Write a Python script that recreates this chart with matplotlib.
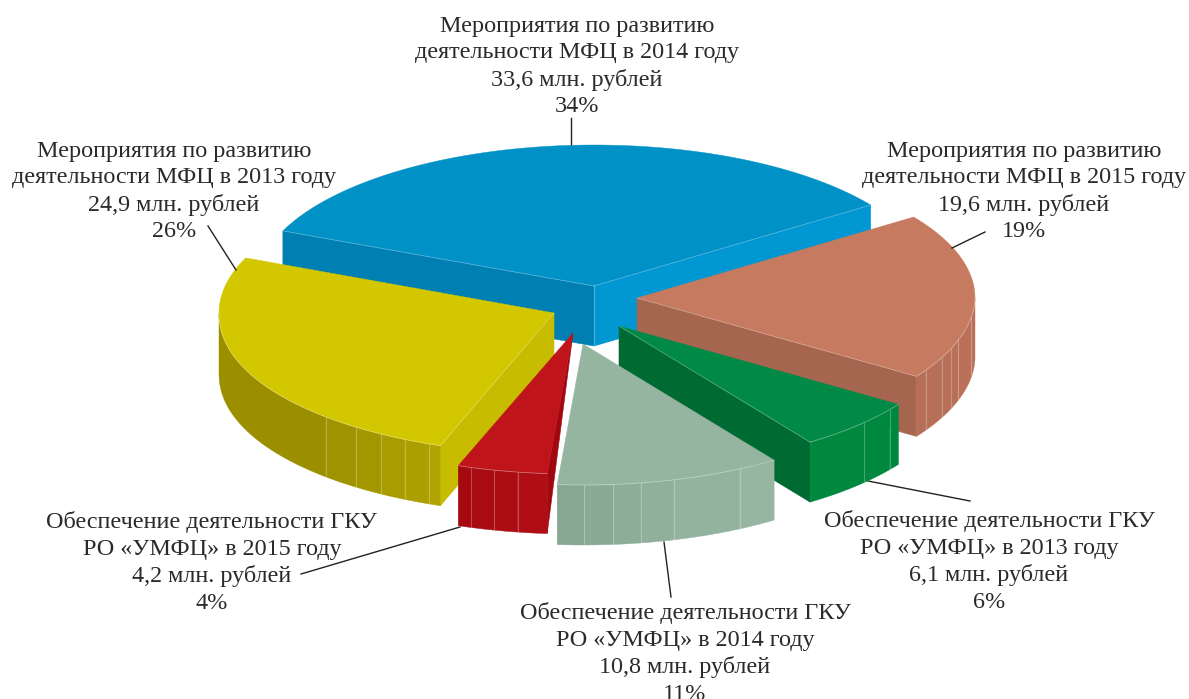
import numpy as np
import matplotlib
matplotlib.use("Agg")
import matplotlib.pyplot as plt
from matplotlib.patches import Polygon

# slices, clockwise from the left edge of the blue one
names = ["Мероприятия по развитию\nдеятельности МФЦ в 2014 году",
         "Мероприятия по развитию\nдеятельности МФЦ в 2015 году",
         "Обеспечение деятельности ГКУ\nРО «УМФЦ» в 2013 году",
         "Обеспечение деятельности ГКУ\nРО «УМФЦ» в 2014 году",
         "Обеспечение деятельности ГКУ\nРО «УМФЦ» в 2015 году",
         "Мероприятия по развитию\nдеятельности МФЦ в 2013 году"]
values = [33.6, 19.6, 6.1, 10.8, 4.2, 24.9]
percents = [34, 19, 6, 11, 4, 26]

# look of each slice
top_col = ["#0091c7", "#c67a60", "#008a45", "#95b5a1", "#c0141b", "#d3c700"]
near_col = ["#0091c7", "#bb7159", "#00883f", "#96b6a2", "#ae0e14", "#b0a400"]
far_col = ["#0091c7", "#b66e57", "#00883f", "#87a793", "#a50a11", "#9b8f00"]
apex_x = [594, 637, 619, 583, 573, 554]
apex_y = [286, 298, 326, 344, 333, 313]
radius_x = [338, 338, 338, 338, 338, 335]
# vertical seams on the rim, degrees after the start of the slice
seams = [[], [44.1, 54.1, 58, 62.1, 68.1], [2.7, 9.7],
         [7, 19.2, 25, 29.7, 34.6], [5, 9, 13],
         [2, 6.5, 11, 16, 22.5]]
text_x = [577, 1024, 989, 685, 212, 174]
text_y = [66.5, 191.5, 561.5, 653.5, 562.5, 191.5]
leaders = [[(571, 118), (571, 146)], [(952, 248), (985, 232)],
           [(868, 481), (970, 501)], [(664, 542), (671, 597)],
           [(460, 527), (301, 574)], [(208, 226), (236, 270)]]

ry = 141
depth = 60
skew = 18
start_angle = 157.0
seam_col = (1, 1, 1, 0.25)


def rim(i, t):
    t = np.radians(t)
    s = np.sin(t)
    low = s < 0
    # the lower half of the picture is a bit off a true ellipse
    x = apex_x[i] + radius_x[i] * np.cos(t) + skew * np.where(low, s * s, 0)
    y = apex_y[i] - ry * np.where(low, np.sin(t + np.radians(3) * np.sqrt(np.abs(s))), s)
    return x, y


def shade(c1, c2, f):
    a = np.array(matplotlib.colors.to_rgb(c1))
    b = np.array(matplotlib.colors.to_rgb(c2))
    return a + (b - a) * f


def wall(ax, p1, p2, col, z):
    ax.add_patch(Polygon([p1, p2, (p2[0], p2[1] + depth), (p1[0], p1[1] + depth)],
                         closed=True, fc=col, ec=col, lw=0.4, zorder=z))


fig = plt.figure(figsize=(11.89, 6.99), dpi=100)
ax = fig.add_axes([0, 0, 1, 1])
ax.set_xlim(0, 1189)
ax.set_ylim(699, 0)
ax.axis("off")

sweeps = np.array(values) / sum(values) * 360
starts = start_angle - np.concatenate([[0], np.cumsum(sweeps)[:-1]])
draw_order = [0, 1, 2, 3, 5, 4]

for z, i in enumerate(draw_order):
    z = z * 10 + 2
    t0 = starts[i]
    t1 = t0 - sweeps[i]
    apex = (apex_x[i], apex_y[i])
    p0 = rim(i, t0)
    p1 = rim(i, t1)

    # radial walls
    if i == 0:
        wall(ax, apex, p0, "#007fb2", z)
        wall(ax, apex, p1, "#0097d2", z)
        ax.plot([apex[0], apex[0]], [apex[1], apex[1] + depth], color=(1, 1, 1, 0.3), lw=0.7, zorder=z + 1)
    if i == 1 or i == 2:
        wall(ax, apex, p1, "#a5654f" if i == 1 else "#006a33", z)
    if i == 5:
        wall(ax, apex, p0, "#c8bc00", z)
    if i == 4:
        ax.add_patch(Polygon([apex, p0, (p0[0], p0[1] + depth)], closed=True,
                             fc="#a0070f", ec="#a0070f", lw=0.4, zorder=z))

    # outer wall, only the part that faces us
    if i != 0:
        vis0 = min(t0, 0)
        vis1 = max(t1, -180)
        tt = np.linspace(vis0, vis1, 120)
        marks = [vis0] + [t0 - s for s in seams[i]] + [vis1]
        n = len(marks) - 1
        for k in range(n):
            tk = tt[(tt <= marks[k]) & (tt >= marks[k + 1])]
            tk = np.concatenate([[marks[k]], tk, [marks[k + 1]]])
            x, y = rim(i, tk)
            pts = list(zip(x, y)) + list(zip(x[::-1], y[::-1] + depth))
            col = shade(near_col[i], far_col[i], k / max(1, n - 1))
            ax.add_patch(Polygon(pts, closed=True, fc=col, ec=col, lw=0.3, zorder=z + 1))
        for s in seams[i]:
            sx, sy = rim(i, t0 - s)
            ax.plot([sx, sx], [sy, sy + depth], color=seam_col, lw=0.8, zorder=z + 2)
        x, y = rim(i, tt)
        ax.plot(x, y, color=(1, 1, 1, 0.35), lw=0.6, zorder=z + 4)

    # top face
    tt = np.linspace(t0, t1, 200)
    x, y = rim(i, tt)
    ax.add_patch(Polygon([apex] + list(zip(x, y)), closed=True, fc=top_col[i],
                         ec=top_col[i], lw=0.3, zorder=z + 3))
    if i in (0, 1, 2, 5):
        edge = p1 if i in (1, 2) else p0
        ax.plot([apex[0], edge[0]], [apex[1], edge[1]], color=(1, 1, 1, 0.3), lw=0.6, zorder=z + 4)
    if i == 0:
        ax.plot([apex[0], p1[0]], [apex[1], p1[1]], color=(1, 1, 1, 0.3), lw=0.6, zorder=z + 4)

for i in range(len(values)):
    (xa, ya), (xb, yb) = leaders[i]
    ax.plot([xa, xb], [ya, yb], color="#222222", lw=1.0, zorder=1 if i in (0, 3, 2, 4) else 100)
    val = ("%.1f" % values[i]).replace(".", ",")
    label = names[i] + "\n" + val + " млн. рублей\n" + str(percents[i]) + "%"
    ax.text(text_x[i], text_y[i], label, ha="center", va="center", family="Liberation Serif",
            fontsize=17.35, color="#2a2a2a", linespacing=1.34, zorder=200)

fig.savefig("out.png", dpi=100)
